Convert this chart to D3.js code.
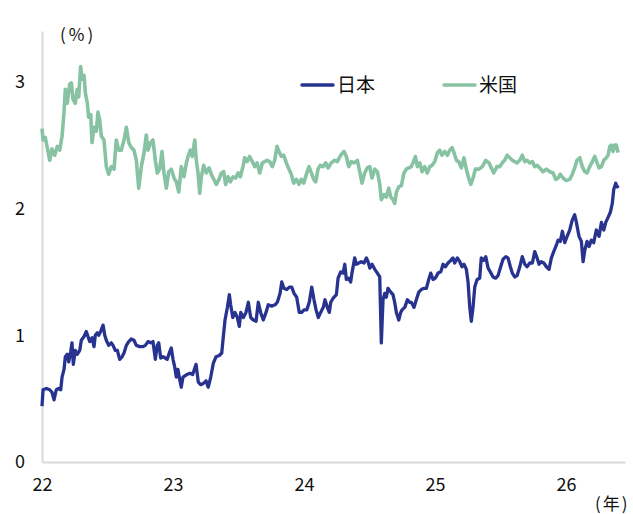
<!DOCTYPE html>
<html><head><meta charset="utf-8">
<script src="https://cdn.jsdelivr.net/npm/d3@7"></script>
<style>
html,body{margin:0;padding:0;background:#fff;}
svg{display:block;font-family:"Noto Sans CJK JP","Noto Sans",sans-serif;}
</style></head>
<body>
<svg id="chart" width="633" height="514"></svg>
<script>
// Series names
const seriesNames = ["日本", "米国"];
// Time in decimal years
const jpT = [2022.000,2022.008,2022.033,2022.059,2022.076,2022.092,2022.109,2022.127,2022.143,2022.153,2022.168,2022.178,2022.193,2022.204,2022.219,2022.229,2022.239,2022.254,2022.269,2022.288,2022.300,2022.321,2022.338,2022.351,2022.364,2022.382,2022.397,2022.407,2022.422,2022.433,2022.448,2022.466,2022.479,2022.491,2022.509,2022.529,2022.542,2022.560,2022.575,2022.593,2022.611,2022.626,2022.644,2022.662,2022.682,2022.702,2022.720,2022.746,2022.771,2022.789,2022.809,2022.830,2022.847,2022.865,2022.880,2022.891,2022.906,2022.924,2022.941,2022.956,2022.975,2022.987,2023.000,2023.013,2023.025,2023.038,2023.051,2023.063,2023.076,2023.105,2023.130,2023.150,2023.176,2023.193,2023.211,2023.231,2023.252,2023.269,2023.288,2023.308,2023.328,2023.353,2023.372,2023.384,2023.397,2023.415,2023.430,2023.440,2023.456,2023.473,2023.491,2023.506,2023.517,2023.537,2023.557,2023.575,2023.593,2023.613,2023.634,2023.651,2023.669,2023.689,2023.710,2023.727,2023.753,2023.779,2023.796,2023.817,2023.830,2023.847,2023.868,2023.888,2023.906,2023.924,2023.944,2023.964,2023.982,2024.000,2024.021,2024.040,2024.059,2024.076,2024.092,2024.109,2024.127,2024.147,2024.160,2024.178,2024.193,2024.204,2024.221,2024.247,2024.260,2024.280,2024.298,2024.311,2024.323,2024.341,2024.356,2024.366,2024.387,2024.399,2024.418,2024.437,2024.458,2024.476,2024.489,2024.502,2024.519,2024.540,2024.560,2024.578,2024.590,2024.603,2024.616,2024.628,2024.641,2024.662,2024.679,2024.692,2024.705,2024.723,2024.738,2024.748,2024.769,2024.789,2024.807,2024.819,2024.840,2024.857,2024.876,2024.895,2024.916,2024.934,2024.952,2024.967,2024.985,2025.002,2025.023,2025.044,2025.061,2025.079,2025.099,2025.120,2025.137,2025.150,2025.170,2025.189,2025.206,2025.221,2025.239,2025.252,2025.265,2025.277,2025.290,2025.303,2025.321,2025.341,2025.353,2025.372,2025.387,2025.405,2025.422,2025.443,2025.463,2025.481,2025.498,2025.519,2025.540,2025.557,2025.575,2025.590,2025.608,2025.626,2025.647,2025.666,2025.685,2025.702,2025.723,2025.743,2025.761,2025.779,2025.794,2025.811,2025.830,2025.850,2025.870,2025.888,2025.906,2025.926,2025.939,2025.956,2025.972,2025.990,2026.008,2026.028,2026.048,2026.066,2026.079,2026.099,2026.117,2026.130,2026.143,2026.160,2026.176,2026.193,2026.211,2026.231,2026.252,2026.270,2026.288,2026.303,2026.321,2026.338,2026.353,2026.364,2026.379,2026.389,2026.402];
// Japan 10y yield (%)
const jpV = [0.44,0.57,0.58,0.57,0.55,0.49,0.57,0.58,0.57,0.67,0.73,0.83,0.85,0.79,0.87,0.94,0.77,0.88,0.85,0.88,0.96,0.99,1.03,0.99,0.95,0.98,0.91,1.00,1.02,1.00,1.03,1.08,1.00,0.96,0.92,0.94,0.92,0.88,0.88,0.81,0.83,0.86,0.92,0.95,0.97,0.96,0.92,0.91,0.91,0.92,0.95,0.94,0.95,0.81,0.92,0.94,0.82,0.83,0.82,0.81,0.87,0.90,0.81,0.75,0.67,0.73,0.65,0.59,0.67,0.69,0.70,0.69,0.77,0.63,0.61,0.62,0.64,0.59,0.67,0.78,0.83,0.84,0.86,0.99,1.12,1.22,1.32,1.24,1.14,1.18,1.14,1.07,1.18,1.14,1.18,1.26,1.14,1.12,1.11,1.26,1.18,1.12,1.18,1.24,1.23,1.24,1.26,1.33,1.42,1.37,1.36,1.38,1.38,1.33,1.30,1.18,1.18,1.20,1.20,1.26,1.38,1.28,1.20,1.14,1.18,1.22,1.28,1.22,1.18,1.26,1.29,1.32,1.45,1.50,1.49,1.56,1.44,1.45,1.42,1.49,1.61,1.56,1.57,1.58,1.57,1.61,1.58,1.53,1.56,1.52,1.49,1.46,0.94,1.28,1.33,1.30,1.37,1.34,1.32,1.26,1.18,1.12,1.18,1.20,1.22,1.28,1.26,1.26,1.22,1.28,1.34,1.36,1.37,1.37,1.44,1.49,1.44,1.45,1.49,1.50,1.56,1.54,1.57,1.59,1.61,1.57,1.61,1.58,1.54,1.56,1.52,1.42,1.22,1.11,1.22,1.38,1.44,1.45,1.61,1.59,1.62,1.53,1.50,1.46,1.45,1.47,1.53,1.60,1.62,1.61,1.54,1.49,1.46,1.47,1.54,1.62,1.56,1.54,1.57,1.57,1.66,1.61,1.56,1.58,1.57,1.54,1.52,1.61,1.66,1.71,1.75,1.74,1.82,1.73,1.78,1.83,1.91,1.95,1.89,1.78,1.74,1.58,1.67,1.74,1.70,1.75,1.73,1.83,1.78,1.89,1.83,1.89,1.93,1.97,2.04,2.15,2.20,2.17,2.18];
const usT = [2022.000,2022.008,2022.025,2022.046,2022.059,2022.076,2022.097,2022.117,2022.135,2022.153,2022.168,2022.178,2022.193,2022.211,2022.224,2022.237,2022.254,2022.269,2022.280,2022.295,2022.305,2022.321,2022.331,2022.346,2022.356,2022.372,2022.382,2022.397,2022.415,2022.427,2022.440,2022.453,2022.473,2022.491,2022.509,2022.529,2022.550,2022.567,2022.585,2022.605,2022.626,2022.644,2022.662,2022.682,2022.702,2022.720,2022.738,2022.758,2022.779,2022.796,2022.809,2022.830,2022.847,2022.865,2022.880,2022.898,2022.916,2022.931,2022.949,2022.967,2022.987,2023.008,2023.025,2023.044,2023.063,2023.084,2023.102,2023.115,2023.132,2023.147,2023.166,2023.178,2023.191,2023.204,2023.216,2023.234,2023.254,2023.275,2023.292,2023.311,2023.331,2023.351,2023.369,2023.387,2023.402,2023.420,2023.437,2023.458,2023.479,2023.496,2023.514,2023.534,2023.547,2023.565,2023.585,2023.605,2023.624,2023.641,2023.662,2023.682,2023.700,2023.718,2023.738,2023.758,2023.776,2023.794,2023.809,2023.827,2023.845,2023.865,2023.885,2023.903,2023.921,2023.941,2023.962,2023.979,2023.998,2024.018,2024.038,2024.056,2024.074,2024.089,2024.107,2024.124,2024.145,2024.166,2024.183,2024.208,2024.234,2024.254,2024.280,2024.305,2024.323,2024.341,2024.361,2024.382,2024.407,2024.425,2024.443,2024.463,2024.483,2024.502,2024.519,2024.540,2024.560,2024.578,2024.590,2024.611,2024.628,2024.647,2024.662,2024.679,2024.692,2024.705,2024.723,2024.743,2024.763,2024.781,2024.799,2024.819,2024.840,2024.850,2024.865,2024.883,2024.901,2024.921,2024.941,2024.960,2024.977,2024.998,2025.018,2025.036,2025.053,2025.074,2025.094,2025.112,2025.130,2025.145,2025.163,2025.181,2025.201,2025.221,2025.239,2025.257,2025.273,2025.290,2025.308,2025.336,2025.361,2025.387,2025.412,2025.430,2025.448,2025.473,2025.494,2025.514,2025.532,2025.550,2025.570,2025.590,2025.608,2025.626,2025.647,2025.666,2025.685,2025.702,2025.723,2025.743,2025.761,2025.779,2025.799,2025.824,2025.850,2025.876,2025.901,2025.921,2025.939,2025.956,2025.977,2026.002,2026.028,2026.048,2026.066,2026.084,2026.105,2026.124,2026.143,2026.160,2026.181,2026.201,2026.219,2026.237,2026.252,2026.270,2026.288,2026.308,2026.321,2026.334,2026.346,2026.359,2026.372,2026.384,2026.397];
// US series (%)
const usV = [2.63,2.54,2.56,2.45,2.38,2.47,2.42,2.49,2.46,2.57,2.76,2.94,2.83,2.98,2.99,2.86,2.83,2.94,2.88,3.12,3.02,3.05,2.91,2.83,2.72,2.74,2.52,2.64,2.61,2.76,2.70,2.57,2.54,2.33,2.27,2.33,2.31,2.54,2.46,2.46,2.54,2.64,2.52,2.48,2.46,2.38,2.16,2.33,2.44,2.58,2.46,2.52,2.54,2.38,2.28,2.31,2.45,2.28,2.16,2.29,2.31,2.24,2.21,2.13,2.33,2.25,2.36,2.41,2.46,2.41,2.54,2.38,2.28,2.12,2.25,2.34,2.28,2.32,2.27,2.23,2.19,2.23,2.28,2.29,2.19,2.25,2.21,2.25,2.24,2.28,2.25,2.33,2.40,2.37,2.41,2.37,2.33,2.36,2.28,2.36,2.37,2.38,2.37,2.33,2.38,2.49,2.45,2.41,2.42,2.36,2.31,2.27,2.20,2.23,2.19,2.23,2.20,2.27,2.33,2.28,2.23,2.21,2.31,2.34,2.33,2.36,2.32,2.36,2.38,2.37,2.42,2.45,2.41,2.33,2.37,2.36,2.38,2.29,2.20,2.28,2.32,2.33,2.24,2.31,2.29,2.19,2.07,2.11,2.09,2.16,2.09,2.07,2.04,2.13,2.17,2.18,2.28,2.31,2.32,2.33,2.38,2.41,2.33,2.36,2.29,2.33,2.28,2.33,2.34,2.37,2.44,2.46,2.42,2.45,2.42,2.46,2.48,2.44,2.38,2.37,2.32,2.40,2.31,2.24,2.19,2.24,2.31,2.31,2.33,2.38,2.36,2.32,2.28,2.33,2.33,2.36,2.38,2.42,2.40,2.38,2.37,2.36,2.38,2.42,2.37,2.38,2.36,2.37,2.33,2.34,2.32,2.29,2.31,2.29,2.28,2.23,2.24,2.27,2.24,2.22,2.23,2.27,2.32,2.38,2.40,2.33,2.29,2.28,2.33,2.37,2.41,2.36,2.32,2.33,2.38,2.40,2.42,2.49,2.50,2.45,2.50,2.50,2.44,2.41];
// Axis tick labels
const xTicks = [2022, 2023, 2024, 2025, 2026];
const xTickLabels = ["22", "23", "24", "25", "26"];
const yTicks = [0, 1, 2, 3];

const colors = {"日本": "#27338f", "米国": "#87c3a2"};

const svg = d3.select("#chart");
const x = d3.scaleLinear().domain([2022, 2026.45]).range([42, 625]);
const y = d3.scaleLinear().domain([0, 3.4]).range([462, 31]);

// axes
const xAxis = d3.axisBottom(x).tickValues(xTicks).tickSize(0).tickPadding(0)
  .tickFormat((d, i) => xTickLabels[i]);
const gx = svg.append("g").attr("transform", "translate(0,462)").call(xAxis);
gx.select(".domain").attr("stroke", "#d9d9d9").attr("stroke-width", 2);
gx.selectAll("text").attr("font-size", 18).attr("fill", "#111").attr("dy", "1.6em")
  .attr("font-family", "'Noto Sans CJK JP', sans-serif");

const yAxis = d3.axisLeft(y).tickValues(yTicks).tickSize(0).tickPadding(17).tickFormat(d3.format("d"));
const gy = svg.append("g").attr("transform", "translate(42,0)").call(yAxis);
gy.select(".domain").attr("stroke", "#d9d9d9").attr("stroke-width", 2);
gy.selectAll("text").attr("font-size", 18).attr("fill", "#111")
  .attr("font-family", "'Noto Sans CJK JP', sans-serif");

// lines
const line = d3.line().x(d => x(d[0])).y(d => y(d[1]));
const usData = usT.map((t, i) => [t, usV[i]]);
const jpData = jpT.map((t, i) => [t, jpV[i]]);
svg.append("path").datum(usData).attr("d", line).attr("fill", "none")
  .attr("stroke", colors["米国"]).attr("stroke-width", 3.6).attr("stroke-linejoin", "round");
svg.append("path").datum(jpData).attr("d", line).attr("fill", "none")
  .attr("stroke", colors["日本"]).attr("stroke-width", 3.3).attr("stroke-linejoin", "round");

// legend
const legX = [302, 444];
seriesNames.forEach((n, i) => {
  const g = svg.append("g").attr("transform", `translate(${legX[i]},85)`);
  g.append("line").attr("x1", 0).attr("x2", 31).attr("y1", 0).attr("y2", 0)
    .attr("stroke", colors[n]).attr("stroke-width", 3.5).attr("stroke-linecap", "round");
  g.append("text").attr("x", 35).attr("y", 0).attr("dy", "0.36em")
    .attr("font-size", 19).attr("fill", "#111").text(n);
});

// unit labels
svg.append("text").attr("x", 60).attr("y", 35).attr("dy", "0.36em").attr("font-size", 17)
  .attr("fill", "#111").attr("letter-spacing", 3).text("(%)");
svg.append("text").attr("x", 595).attr("y", 504).attr("dy", "0.36em").attr("font-size", 17)
  .attr("fill", "#111").attr("letter-spacing", 2).text("(年)");
</script>
</body></html>
